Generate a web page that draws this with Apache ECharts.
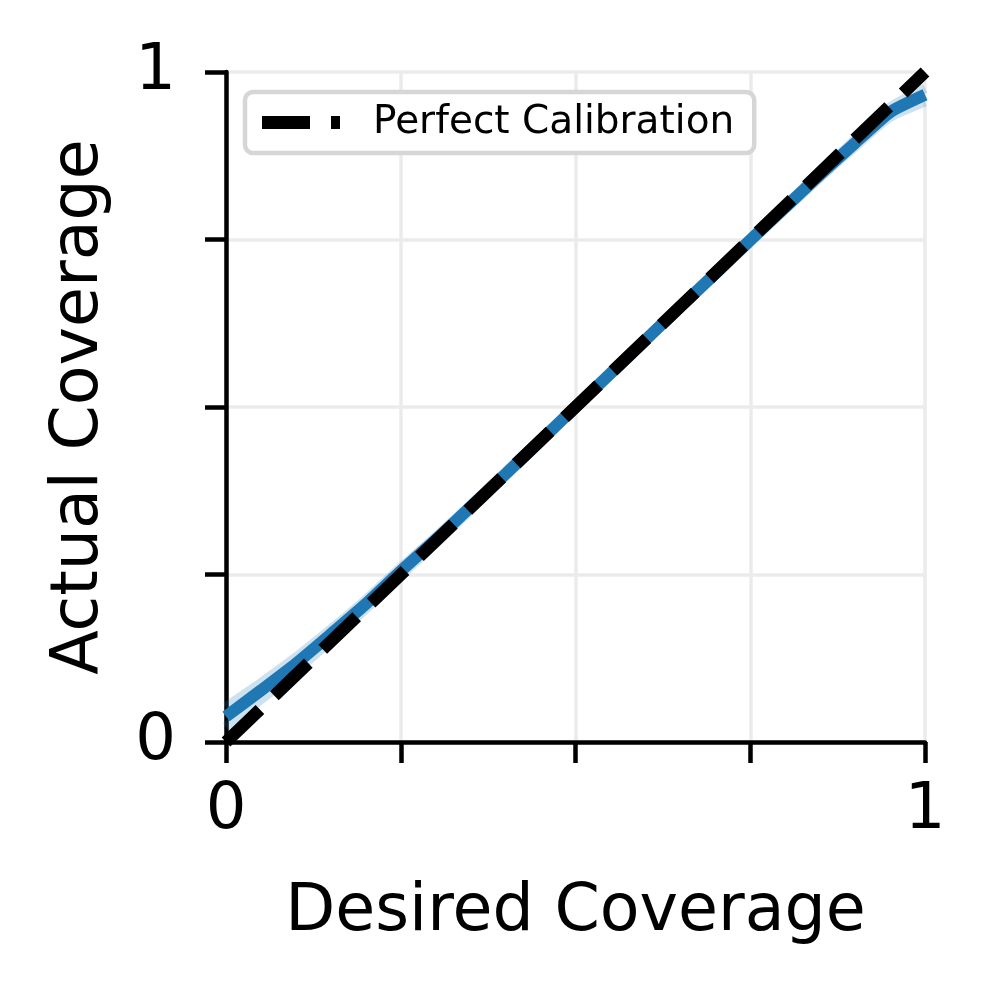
<!DOCTYPE html>
<html>
<head>
<meta charset="utf-8">
<script src="https://cdn.jsdelivr.net/npm/echarts@6/dist/echarts.min.js"></script>
<style>
  html, body { margin: 0; padding: 0; background: #fff; }
  #main { width: 995px; height: 991px; }
</style>
</head>
<body>
<div id="main"></div>
<script>
// desired coverage levels (x)
const desired = [0, 0.05, 0.1, 0.15, 0.2, 0.25, 0.3, 0.35, 0.4, 0.45, 0.5,
                 0.55, 0.6, 0.65, 0.7, 0.75, 0.8, 0.85, 0.9, 0.95, 1];
// mean actual coverage
const actual = [0.038, 0.077, 0.117, 0.161, 0.206, 0.255, 0.302, 0.351, 0.4, 0.45, 0.5,
                0.55, 0.6, 0.65, 0.699, 0.749, 0.798, 0.847, 0.894, 0.94, 0.966];
// individual runs (light band)
const runA = [0.052, 0.088, 0.126, 0.168, 0.212, 0.26, 0.306, 0.354, 0.403, 0.452, 0.502,
              0.552, 0.602, 0.652, 0.701, 0.751, 0.801, 0.85, 0.899, 0.947, 0.976];
const runB = [0.022, 0.064, 0.106, 0.152, 0.199, 0.249, 0.297, 0.347, 0.397, 0.447, 0.498,
              0.548, 0.598, 0.648, 0.697, 0.746, 0.795, 0.843, 0.889, 0.933, 0.956];
const diagonal = [0, 1];

const toPairs = (xs, ys) => xs.map((x, i) => [x, ys[i]]);

var chartDom = document.getElementById('main');
var myChart = echarts.init(chartDom);
var font = 'DejaVu Sans';

var axisCommon = {
  type: 'value',
  min: 0, max: 1, interval: 0.25,
  nameLocation: 'middle',
  nameTextStyle: { fontSize: 65, color: '#000', fontFamily: font },
  axisLine: { show: true, onZero: false, lineStyle: { color: '#000', width: 4.5 } },
  axisTick: { show: true, length: 21, lineStyle: { color: '#000', width: 4.5 } },
  splitLine: { show: true, lineStyle: { color: '#ebebeb', width: 3.5 } }
};

var option = {
  animation: false,
  textStyle: { fontFamily: font },
  grid: { left: 226, right: 70, top: 72, bottom: 249 },
  legend: {
    left: 245,
    top: 92,
    data: ['Perfect Calibration'],
    itemWidth: 78,
    itemHeight: 13,
    padding: [11, 20, 11, 17],
    borderColor: '#d6d6d6',
    borderWidth: 4.5,
    borderRadius: 8,
    backgroundColor: '#fff',
    textStyle: { fontSize: 39, color: '#000', fontFamily: font, padding: [0, 0, 0, 28] },
    icon: 'path://M0,0 L48,0 L48,13 L0,13 Z M69,0 L78,0 L78,13 L69,13 Z'
  },
  xAxis: Object.assign({}, axisCommon, {
    name: 'Desired Coverage',
    nameGap: 139,
    axisLabel: {
      fontSize: 64, color: '#000', margin: 37, fontFamily: font,
      formatter: v => (v === 0 || v === 1) ? String(v) : ''
    }
  }),
  yAxis: Object.assign({}, axisCommon, {
    name: 'Actual Coverage',
    nameGap: 113,
    axisLabel: {
      fontSize: 64, color: '#000', margin: 50, fontFamily: font,
      formatter: v => (v === 0 || v === 1) ? String(v) : ''
    }
  }),
  series: [
    {
      name: 'runA', type: 'line', data: toPairs(desired, runA), symbol: 'none', smooth: 0.2,
      lineStyle: { color: '#1f77b4', width: 10, opacity: 0.22 }, z: 2
    },
    {
      name: 'runB', type: 'line', data: toPairs(desired, runB), symbol: 'none', smooth: 0.2,
      lineStyle: { color: '#1f77b4', width: 10, opacity: 0.22 }, z: 2
    },
    {
      name: 'Coverage', type: 'line', data: toPairs(desired, actual), symbol: 'none', smooth: 0.2,
      lineStyle: { color: '#1f77b4', width: 12 }, z: 3
    },
    {
      name: 'Perfect Calibration', type: 'line', data: toPairs(diagonal, diagonal), symbol: 'none',
      itemStyle: { color: '#000' },
      lineStyle: { color: '#000', width: 12.5, type: [47, 20] }, z: 4
    }
  ]
};
myChart.setOption(option);
</script>
</body>
</html>
